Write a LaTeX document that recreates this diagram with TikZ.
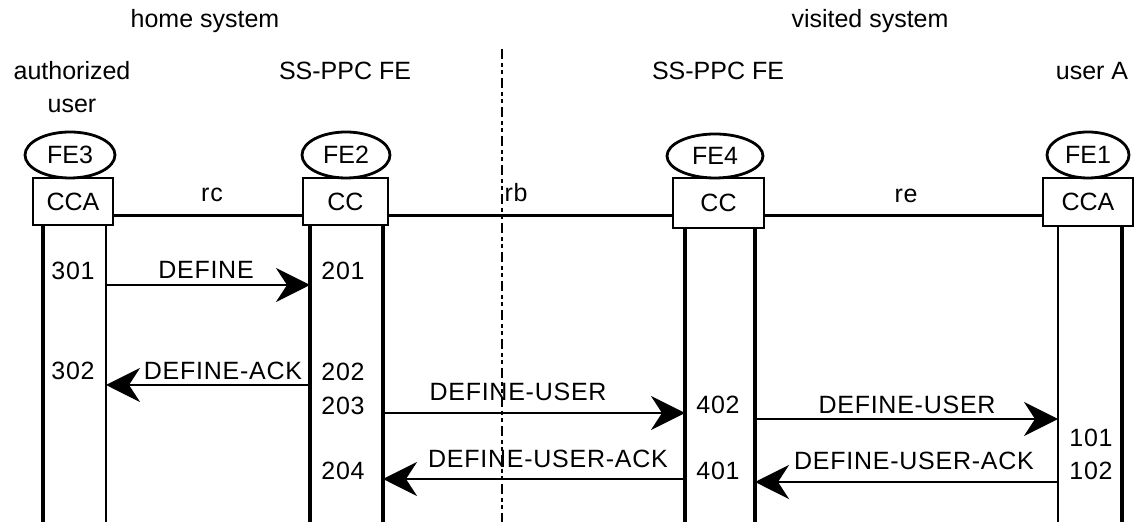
\documentclass[tikz,border=0pt]{standalone}
\usepackage{fontspec}
\setmainfont{Liberation Sans}
\newfontfamily\msgfont[LetterSpace=3]{Liberation Sans}
\usetikzlibrary{arrows.meta,shapes.geometric}
\begin{document}
\begin{tikzpicture}[x=0.5pt,y=-0.5pt,
  title/.style={font=\fontsize{12.5}{15}\selectfont, anchor=base, inner sep=0pt},
  lbl/.style={font=\msgfont\fontsize{12.5}{15}\selectfont, anchor=base, inner sep=0pt},
  fe/.style={ellipse, draw, line width=1.4pt, inner sep=0pt, minimum height=23pt,
             font=\fontsize{12.5}{15}\selectfont},
  unit/.style={rectangle, draw, line width=1.3pt, inner sep=0pt,
               font=\fontsize{12.5}{15}\selectfont},
  lifethick/.style={line width=2pt},
  lifethin/.style={line width=0.7pt},
  link/.style={line width=1.5pt},
  sig/.style={line width=1.2pt, -{Stealth[length=17pt,width=17pt,inset=5.5pt]}},
  border/.style={line width=0.8pt, dash pattern=on 5pt off 2pt on 2pt off 1.5pt on 2pt off 2pt}]
\useasboundingbox (0,0) rectangle (1140,522);

% system boundary
\coordinate (bdtop) at (502,49);
\coordinate (bdbot) at (502,522);
\draw[border] (bdtop) -- (bdbot);

% headings
\node[title] (home) at (205,28) {home system};
\node[title] (visited) at (870,28) {visited system};
\node[title] (h1) at (72,80) {authorized};
\node[title] (h1b) at (72,113) {user};
\node[title] (h2) at (345,80) {SS-PPC FE};
\node[title] (h4) at (718,80) {SS-PPC FE};
\node[title] (h5) at (1092,80) {user A};

% functional entities
\node[fe, minimum width=45pt] (fe3) at (70,155) {FE3};
\node[fe, minimum width=44pt] (fe2) at (346,155) {FE2};
\node[fe, minimum width=48pt, minimum height=22pt] (fe4) at (715,156) {FE4};
\node[fe, minimum width=41pt] (fe1) at (1088,155) {FE1};

\node[unit, minimum width=40pt, minimum height=23.5pt] (ccaH) at (73,201.5) {CCA};
\node[unit, minimum width=42.5pt, minimum height=23.5pt] (ccH) at (345.5,201.5) {CC};
\node[unit, minimum width=45.5pt, minimum height=25pt] (ccV) at (718.5,203) {CC};
\node[unit, minimum width=45pt, minimum height=24pt] (ccaV) at (1088,202) {CCA};

% relationships
\coordinate (bus) at (0,216);
\draw[link] (ccaH.east |- bus) -- (ccH.west |- bus);
\draw[link] (ccH.east |- bus) -- (ccV.west |- bus);
\draw[link] (ccV.east |- bus) -- (ccaV.west |- bus);
\node[lbl] (rc) at (212,202) {rc};
\node[lbl] (rb) at (516,202) {rb};
\node[lbl] (re) at (906,203) {re};

% lifelines
\coordinate (l1) at (43,522);
\coordinate (l2) at (106,522);
\coordinate (l3) at (310,522);
\coordinate (l4) at (383,522);
\coordinate (l5) at (685,522);
\coordinate (l6) at (755,522);
\coordinate (l7) at (1058,522);
\coordinate (l8) at (1122,522);
\draw[lifethick] (l1 |- ccaH.south) -- (l1);
\draw[lifethin]  (l2 |- ccaH.south) -- (l2);
\draw[lifethick] (l3 |- ccH.south) -- (l3);
\draw[lifethick] (l4 |- ccH.south) -- (l4);
\draw[lifethick] (l5 |- ccV.south) -- (l5);
\draw[lifethick] (l6 |- ccV.south) -- (l6);
\draw[lifethin]  (l7 |- ccaV.south) -- (l7);
\draw[lifethick] (l8 |- ccaV.south) -- (l8);

% information flows
\coordinate (m1a) at (106,285);  \coordinate (m1b) at (310,285);
\coordinate (m2a) at (310,385);  \coordinate (m2b) at (106,385);
\coordinate (m3a) at (383,413);  \coordinate (m3b) at (685,413);
\coordinate (m4a) at (755,419);  \coordinate (m4b) at (1058,419);
\coordinate (m5a) at (685,479);  \coordinate (m5b) at (383,479);
\coordinate (m6a) at (1058,482); \coordinate (m6b) at (755,482);
\draw[sig] (m1a) -- (m1b);
\draw[sig] (m2a) -- (m2b);
\draw[sig] (m3a) -- (m3b);
\draw[sig] (m4a) -- (m4b);
\draw[sig] (m5a) -- (m5b);
\draw[sig] (m6a) -- (m6b);

\node[lbl] (f1) at (206,279) {DEFINE};
\node[lbl] (f2) at (223,380) {DEFINE-ACK};
\node[lbl] (f3) at (518,401) {DEFINE-USER};
\node[lbl] (f4) at (907,414) {DEFINE-USER};
\node[lbl] (f5) at (548,468) {DEFINE-USER-ACK};
\node[lbl] (f6) at (914,470) {DEFINE-USER-ACK};

% action numbers
\node[lbl] (n301) at (73,280) {301};
\node[lbl] (n302) at (73,380) {302};
\node[lbl] (n201) at (343,280) {201};
\node[lbl] (n202) at (343,381) {202};
\node[lbl] (n203) at (343,415) {203};
\node[lbl] (n204) at (343,480) {204};
\node[lbl] (n402) at (718,414) {402};
\node[lbl] (n401) at (718,480) {401};
\node[lbl] (n101) at (1091,447) {101};
\node[lbl] (n102) at (1091,480) {102};
\end{tikzpicture}
\end{document}
